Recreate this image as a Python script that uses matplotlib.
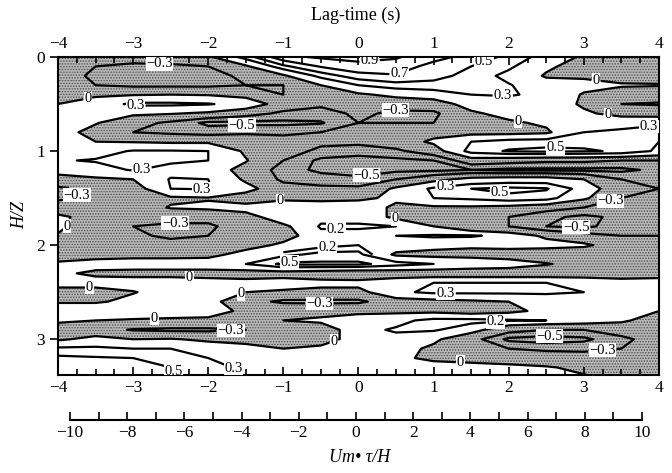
import numpy as np
import matplotlib.pyplot as plt
from matplotlib.ticker import MultipleLocator

plt.rcParams['font.family'] = ['Liberation Serif', 'DejaVu Serif']
plt.rcParams['hatch.color'] = '#4a4a4a'
plt.rcParams['hatch.linewidth'] = 0.7

# grid of the map: lag-time columns (s) and H/Z rows
lag = np.arange(-4, 4.01, 0.5)
hz = np.round(np.arange(0, 3.41, 0.1), 2)

# correlation, one list per lag-time column, H/Z = 0 .. 3.4
r_cols = [
    [-0.2, -0.25, -0.25, -0.2, -0.1, 0.0, 0.1, 0.12, 0.12, 0.15, 0.2, 0.28, 0.1, -0.1, -0.35, -0.35, -0.15, 0.05,
     0.05, -0.02, -0.1, -0.15, 0.05, 0.05, 0.1, -0.1, -0.05, 0.3, 0.05, -0.15, -0.05, 0.35, 0.55, 0.6, 0.6],
    [-0.2, -0.3, -0.32, -0.3, -0.05, 0.15, 0.1, 0.02, -0.1, 0.0, 0.2, 0.32, 0.2, -0.05, -0.25, -0.25, -0.2, -0.1,
     -0.15, -0.15, -0.15, -0.1, 0.1, -0.05, 0.1, -0.1, -0.05, 0.3, 0.0, -0.2, 0.1, 0.35, 0.52, 0.58, 0.6],
    [-0.2, -0.35, -0.38, -0.35, -0.02, 0.35, 0.05, -0.2, -0.3, -0.02, 0.32, 0.38, 0.32, 0.0, -0.15, -0.2, -0.15, -0.2,
     -0.3, -0.25, -0.15, -0.1, 0.15, -0.1, 0.15, -0.02, 0.1, 0.3, -0.05, -0.32, 0.0, 0.3, 0.5, 0.55, 0.58],
    [-0.15, -0.35, -0.4, -0.35, 0.0, 0.35, 0.02, -0.35, -0.35, -0.05, 0.32, 0.35, 0.2, 0.32, 0.3, -0.05, 0.02, -0.2,
     -0.35, -0.35, -0.2, -0.1, 0.15, -0.1, 0.15, 0.15, 0.25, 0.15, -0.05, -0.35, 0.02, 0.3, 0.42, 0.5, 0.52],
    [-0.05, -0.3, -0.38, -0.35, -0.02, 0.32, -0.05, -0.55, -0.4, -0.05, 0.3, 0.3, 0.15, 0.3, 0.32, -0.02, 0.05, -0.2,
     -0.35, -0.3, -0.15, -0.08, 0.15, -0.1, 0.1, 0.1, 0.1, 0.1, -0.05, -0.35, -0.05, 0.15, 0.3, 0.35, 0.4],
    [0.4, -0.05, -0.25, -0.3, -0.1, 0.2, -0.2, -0.55, -0.35, -0.1, -0.05, 0.02, -0.1, -0.05, 0.1, -0.15, 0.1, -0.1,
     -0.15, -0.15, -0.1, 0.1, 0.3, -0.15, 0.1, 0.0, -0.2, -0.05, -0.05, -0.3, -0.1, 0.1, 0.2, 0.27, 0.3],
    [0.85, 0.45, -0.05, -0.3, -0.3, -0.15, -0.35, -0.55, -0.35, -0.2, -0.2, -0.3, -0.4, -0.35, -0.2, -0.05, 0.15, 0.15,
     -0.05, -0.1, 0.05, 0.25, 0.55, -0.15, 0.15, -0.05, -0.35, -0.05, 0.0, -0.2, -0.15, 0.0, 0.15, 0.2, 0.22],
    [0.93, 0.72, 0.38, 0.0, -0.2, -0.25, -0.4, -0.52, -0.3, -0.25, -0.35, -0.55, -0.55, -0.4, -0.25, -0.05, 0.1, 0.15,
     0.22, 0.15, 0.15, 0.35, 0.55, -0.2, 0.1, -0.1, -0.35, -0.1, 0.05, -0.15, -0.1, 0.05, 0.15, 0.15, 0.15],
    [0.95, 0.85, 0.62, 0.3, -0.05, -0.25, -0.25, -0.3, -0.2, -0.25, -0.4, -0.6, -0.6, -0.45, -0.25, -0.05, 0.15, 0.15,
     0.22, 0.15, 0.2, 0.35, 0.55, -0.25, 0.1, -0.1, -0.35, -0.05, 0.1, 0.15, 0.1, 0.1, 0.1, 0.1, 0.1],
    [0.92, 0.82, 0.68, 0.42, 0.08, -0.2, -0.35, -0.3, -0.15, -0.15, -0.35, -0.55, -0.55, -0.3, 0.05, 0.05, -0.05, -0.05,
     0.2, 0.2, 0.15, -0.05, 0.4, -0.2, 0.2, 0.25, -0.15, -0.05, 0.15, 0.22, 0.15, 0.1, 0.05, 0.1, 0.1],
    [0.78, 0.62, 0.55, 0.45, 0.15, -0.15, -0.35, -0.3, -0.1, 0.05, -0.15, -0.5, -0.55, -0.1, 0.35, 0.3, -0.05, -0.2,
     0.0, 0.22, 0.1, -0.1, 0.3, -0.2, 0.3, 0.35, -0.1, -0.05, 0.25, 0.22, 0.05, -0.05, -0.05, 0.1, 0.15],
    [0.62, 0.5, 0.45, 0.38, 0.3, 0.12, -0.05, -0.25, -0.1, 0.3, 0.4, -0.15, -0.5, 0.1, 0.5, 0.35, -0.05, -0.25,
     -0.2, 0.22, 0.05, -0.1, 0.2, -0.2, 0.3, 0.35, -0.05, -0.1, 0.25, 0.1, -0.2, -0.15, -0.05, 0.05, 0.1],
    [0.45, 0.35, 0.22, 0.32, 0.32, 0.2, 0.1, -0.05, -0.1, 0.4, 0.52, -0.2, -0.55, 0.15, 0.55, 0.45, -0.1, -0.3,
     -0.3, 0.15, 0.1, -0.15, 0.15, -0.2, 0.3, 0.35, 0.0, -0.05, 0.22, -0.2, -0.55, -0.3, -0.1, 0.05, 0.05],
    [0.2, 0.05, -0.03, 0.12, 0.25, 0.2, 0.15, 0.05, -0.05, 0.42, 0.55, -0.25, -0.55, 0.15, 0.52, 0.4, -0.2, -0.45,
     -0.5, -0.05, 0.1, -0.2, 0.02, -0.2, 0.3, 0.35, 0.1, 0.05, 0.2, -0.3, -0.6, -0.35, -0.15, 0.02, 0.05],
    [-0.05, -0.12, -0.05, 0.1, -0.03, -0.05, 0.05, 0.2, 0.3, 0.45, 0.52, -0.25, -0.55, 0.0, 0.2, 0.05, -0.3, -0.55,
     -0.55, -0.2, 0.05, -0.2, -0.1, -0.2, 0.25, 0.3, 0.2, 0.2, 0.15, -0.3, -0.55, -0.35, -0.2, -0.05, 0.02],
    [-0.1, -0.15, -0.12, 0.03, -0.15, -0.3, -0.1, 0.2, 0.35, 0.45, 0.48, -0.3, -0.55, -0.3, -0.25, -0.3, -0.35, -0.45,
     -0.4, -0.3, -0.15, -0.25, -0.2, -0.2, 0.15, 0.25, 0.25, 0.15, 0.05, -0.2, -0.35, -0.3, -0.2, -0.1, -0.05],
    [-0.1, -0.15, -0.12, 0.02, -0.2, -0.32, -0.15, 0.28, 0.35, 0.3, 0.25, -0.3, -0.45, -0.3, -0.3, -0.35, -0.35, -0.3,
     -0.3, -0.3, -0.25, -0.25, -0.2, -0.1, 0.1, 0.2, 0.25, 0.0, -0.15, -0.2, -0.2, -0.2, -0.15, -0.15, -0.15],
]

line_levels = [-0.5, -0.3, 0, 0.3, 0.5, 0.7, 0.9]

# where the contour labels sit on the original map (lag, H/Z)
label_pos = [(-2.65, 0.12), (-3.6, 0.46), (-2.97, 0.53), (-1.55, 0.74), (-2.88, 1.22), (-2.08, 1.36),
             (-3.74, 1.47), (-1.04, 1.54), (-3.83, 1.84), (-2.44, 1.83),
             (0.15, 0.06), (0.55, 0.19), (1.7, 0.12), (1.92, 0.44), (3.16, 0.27), (3.32, 0.6),
             (3.87, 0.74), (2.12, 0.72), (0.5, 0.6), (2.62, 0.96), (0.1, 1.2), (1.16, 1.4),
             (1.88, 1.45), (3.34, 1.49), (0.5, 1.66), (2.9, 1.77),
             (-0.92, 2.16), (-2.25, 2.35), (-3.58, 2.51), (-2.72, 2.66), (-1.52, 2.6),
             (-0.52, 2.62), (1.16, 2.47), (-1.7, 2.91), (-0.32, 3.04), (2.54, 3.0), (3.25, 3.15),
             (1.36, 3.2), (-2.41, 3.31), (-1.61, 3.25)]


def fmt(v):
    if abs(v) < 1e-9:
        return '0'
    return f'{v:.1f}'.replace('-', '\u2212')


Z = np.array(r_cols).T
LAG, HZ = np.meshgrid(lag, hz)

fig = plt.figure(figsize=(6.72, 4.73), dpi=100)
ax = fig.add_axes([0.0863, 0.2072, 0.8943, 0.6723])

ax.contourf(lag, hz, Z, levels=[-2, 0], colors=['#b9b9b9'], hatches=['......'])
cs = ax.contour(lag, hz, Z, levels=line_levels, colors='k', linewidths=1.6,
                linestyles='solid')

# the 0.2 line is only drawn in the lower middle of the map
z02 = np.ma.masked_where(~((((HZ >= 1.7) & (HZ <= 2.1)) | ((HZ >= 2.7) & (HZ <= 3.0))) & (LAG >= -1)), Z)
cs2 = ax.contour(lag, hz, z02, levels=[0.2], colors='k', linewidths=1.6)

labels = ax.clabel(cs, fmt=fmt, fontsize=10.5, inline=True, inline_spacing=1, manual=label_pos)
labels += ax.clabel(cs2, fmt=fmt, fontsize=10.5, inline=True, inline_spacing=1,
                    manual=[(-0.3, 1.82), (-0.41, 2.05), (1.83, 2.82)])
for t in labels:
    t.set_rotation(0)
    t.set_bbox(dict(facecolor='white', edgecolor='none', pad=0.3))

ax.set_xlim(-4, 4)
ax.set_ylim(3.38, 0)
ax.xaxis.set_major_locator(MultipleLocator(1))
ax.xaxis.set_minor_locator(MultipleLocator(0.25))
ax.yaxis.set_major_locator(MultipleLocator(1))
ax.tick_params(axis='x', which='both', direction='in', top=True, bottom=True,
               labeltop=True, labelbottom=True, labelsize=12.5, width=1.2)
ax.tick_params(axis='x', which='major', length=6)
ax.tick_params(axis='x', which='minor', length=4)
ax.tick_params(axis='y', direction='out', length=6, width=1.2, labelsize=12.5, right=False)
for s in ax.spines.values():
    s.set_linewidth(1.5)

# second scale, U tau / H
ax2 = fig.add_axes([0.0863, 0.112, 0.8943, 0.05])
ax2.patch.set_visible(False)
for side in ['top', 'left', 'right']:
    ax2.spines[side].set_visible(False)
ax2.spines['bottom'].set_bounds(-10, 10)
ax2.spines['bottom'].set_linewidth(1.5)
ax2.set_xlim(-10.42, 10.59)
ax2.set_yticks([])
ax2.xaxis.set_major_locator(MultipleLocator(2))
ax2.xaxis.set_minor_locator(MultipleLocator(1))
ax2.tick_params(axis='x', which='both', direction='in', labelsize=12.5, width=1.2)
ax2.tick_params(axis='x', which='major', length=6)
ax2.tick_params(axis='x', which='minor', length=6)

fig.text(0.53, 0.968, 'Lag-time (s)', ha='center', va='center', fontsize=13)
fig.text(0.03, 0.545, 'H/Z', ha='center', va='center', rotation=90, fontsize=13, style='italic')
fig.text(0.535, 0.032, 'Um\u2022 \u03c4/H', ha='center', va='center', fontsize=13, style='italic')

fig.savefig('out.png', dpi=100)
